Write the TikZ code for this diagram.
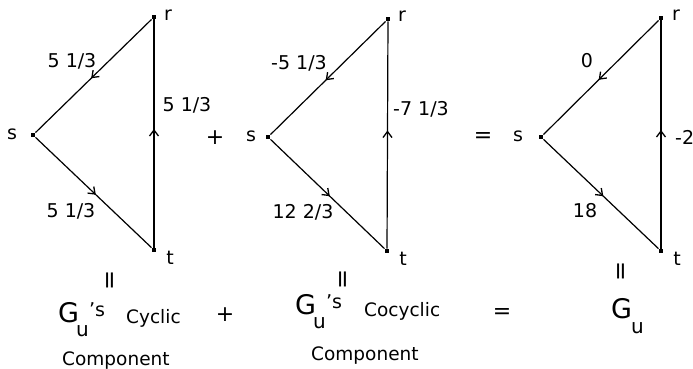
\documentclass[tikz,border=0pt]{standalone}
\usepackage{fontspec}
\setmainfont{DejaVu Sans}
\usetikzlibrary{arrows.meta,decorations.markings}
\tikzset{
  vtx/.style={rectangle,fill=black,inner sep=0pt,minimum size=4.5pt},
  edge/.style={line width=1.2pt,postaction={decorate},
    decoration={markings,mark=at position 0.52 with {\arrow{Straight Barb[length=6pt,width=9pt,line width=1.3pt]}}}},
  vlab/.style={font=\fontsize{19}{19}\selectfont,inner sep=0pt},
  elab/.style={font=\fontsize{19}{19}\selectfont,inner sep=0pt},
  op/.style={font=\fontsize{22}{22}\selectfont,inner sep=0pt},
  word/.style={font=\fontsize{18.5}{18}\selectfont,inner sep=0pt,anchor=base west},
  sword/.style={font=\fontsize{19}{19}\selectfont,inner sep=0pt,anchor=base west},
  bigG/.style={font=\fontsize{27}{27}\selectfont,inner sep=0pt,anchor=base west},
  subu/.style={font=\fontsize{20}{20}\selectfont,inner sep=0pt,anchor=base west},
  vbar/.style={font=\fontsize{24}{24}\selectfont,inner sep=0pt,rotate=90}
}
\begin{document}
\begin{tikzpicture}[x=1pt,y=-1pt]
\useasboundingbox (0,0) rectangle (693,368);
% graph 1
\node[vtx] (r1) at (154,17) {};
\node[vtx] (s1) at (33,135) {};
\node[vtx] (t1) at (154,250) {};
\draw[edge] (r1) -- (s1);
\draw[edge] (t1) -- (r1);
\draw[edge] (s1) -- (t1);
\node[vlab] (lr1) at (168,15) {r};
\node[vlab] (ls1) at (12,134) {s};
\node[vlab] (lt1) at (170,258) {t};
\node[elab] (e1a) at (72,61) {5 1/3};
\node[elab] (e1b) at (187,105) {5 1/3};
\node[elab] (e1c) at (71,211) {5 1/3};
\node[op] (p1) at (215,138) {+};
% graph 2
\node[vtx] (r2) at (388,19) {};
\node[vtx] (s2) at (268,137) {};
\node[vtx] (t2) at (387,251) {};
\draw[edge] (r2) -- (s2);
\draw[edge] (t2) -- (r2);
\draw[edge] (s2) -- (t2);
\node[vlab] (lr2) at (402,16) {r};
\node[vlab] (ls2) at (251,136) {s};
\node[vlab] (lt2) at (403,259) {t};
\node[elab] (e2a) at (299,63) {-5 1/3};
\node[elab] (e2b) at (421,109) {-7 1/3};
\node[elab] (e2c) at (303,212) {12 2/3};
\node[op] (q1) at (483,137) {=};
% graph 3
\node[vtx] (r3) at (661,18) {};
\node[vtx] (s3) at (541,137) {};
\node[vtx] (t3) at (661,251) {};
\draw[edge] (r3) -- (s3);
\draw[edge] (t3) -- (r3);
\draw[edge] (s3) -- (t3);
\node[vlab] (lr3) at (676,15) {r};
\node[vlab] (ls3) at (518,136) {s};
\node[vlab] (lt3) at (677,259) {t};
\node[elab] (e3a) at (587,61) {0};
\node[elab] (e3c) at (585,211) {18};
\node[elab,anchor=west] (e3b) at (675,137) {-2};
% vertical equal signs
\node[vbar] (v1) at (112,280) {=};
\node[vbar] (v2) at (345,279) {=};
\node[vbar] (v3) at (623,271) {=};
% bottom captions
\node[bigG] (g1) at (58,322) {G};
\node[subu] (u1) at (76,336) {u};
\node[sword] (s1w) at (89,316) {'s};
\node[word] (c1) at (126,323) {Cyclic};
\node[op] (p2) at (225,315) {+};
\node[word] (cp1) at (62,365) {Component};
\node[bigG] (g2) at (295,314) {G};
\node[subu] (u2) at (313,328) {u};
\node[sword] (s2w) at (326,308) {'s};
\node[word] (c2) at (364,316) {Cocyclic};
\node[op] (q2) at (502,313) {=};
\node[word] (cp2) at (311,360) {Component};
\node[bigG] (g3) at (611,318) {G};
\node[subu] (u3) at (631,333) {u};
\end{tikzpicture}
\end{document}
